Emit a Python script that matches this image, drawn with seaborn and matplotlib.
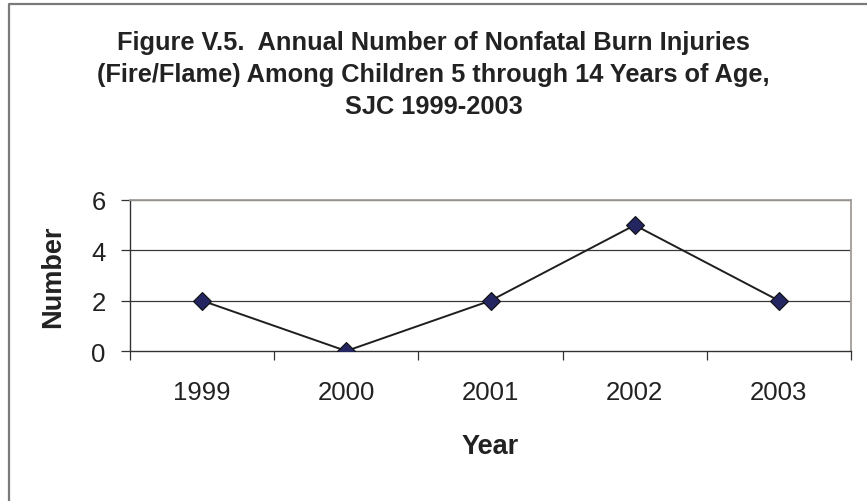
import matplotlib
matplotlib.use("Agg")
import matplotlib.pyplot as plt
from matplotlib.lines import Line2D
from matplotlib.ticker import FixedLocator, NullFormatter
import seaborn as sns
import pandas as pd

years = [1999, 2000, 2001, 2002, 2003]
counts = [2, 0, 2, 5, 2]
y_ticks = [0, 2, 4, 6]
title = ("Figure V.5.  Annual Number of Nonfatal Burn Injuries\n"
         "(Fire/Flame) Among Children 5 through 14 Years of Age,\n"
         "SJC 1999-2003")

df = pd.DataFrame({"Year": years, "Number": counts})

sns.set_theme(style="white")
plt.rcParams["font.family"] = ["Liberation Sans", "DejaVu Sans"]

fig = plt.figure(figsize=(8.67, 5.02), dpi=100)
ax = fig.add_axes([130 / 867, 1 - 352 / 502, 721 / 867, 151 / 502])

# gridlines behind the line
for v in y_ticks[1:]:
    ax.axhline(v, color="#3a3a3a", lw=0.9, zorder=0)

sns.lineplot(data=df, x="Year", y="Number", ax=ax, color="#1e1e1e", lw=1.4,
             marker="D", markersize=9, markerfacecolor="#232660",
             markeredgecolor="#111111", markeredgewidth=0.8, zorder=3)

ax.set_xlim(years[0] - 0.5, years[-1] + 0.5)
ax.set_ylim(y_ticks[0], y_ticks[-1])
ax.set_yticks(y_ticks)

# category boundaries get the tick marks, labels sit in the middle
ax.xaxis.set_major_locator(FixedLocator([y - 0.5 for y in years] + [years[-1] + 0.5]))
ax.xaxis.set_major_formatter(NullFormatter())
ax.xaxis.set_minor_locator(FixedLocator(years))
ax.set_xticklabels([str(y) for y in years], minor=True)

ax.tick_params(axis="x", which="major", direction="out", length=6.5, width=0.9,
               color="#333333", bottom=True)
ax.tick_params(axis="x", which="minor", length=0, pad=21, labelsize=18.5,
               labelcolor="#222222", bottom=True)
ax.tick_params(axis="y", direction="out", length=6.5, width=0.9, color="#333333",
               pad=11, labelsize=18.5, labelcolor="#222222", left=True)

for s in ["left", "bottom"]:
    ax.spines[s].set_color("#333333")
    ax.spines[s].set_linewidth(1.0)
for s in ["top", "right"]:
    ax.spines[s].set_color("#a39c97")
    ax.spines[s].set_linewidth(1.3)

ax.set_xlabel("Year", fontsize=19.5, fontweight="bold", color="#222222")
ax.xaxis.set_label_coords(0.5, -0.54)
ax.set_ylabel("Number", fontsize=19.5, fontweight="bold", color="#222222")
ax.yaxis.set_label_coords(-0.088, 0.5)

fig.text(0.5, 1 - 75 / 502, title, ha="center", va="center", fontsize=18.3,
         fontweight="bold", color="#222222", linespacing=1.4)

# outer chart frame (left and top edges)
fig.add_artist(Line2D([9 / 867, 9 / 867, 1.0], [0.0, 1 - 5 / 502, 1 - 5 / 502],
                      transform=fig.transFigure, color="#7a7a7a", lw=1.6))

fig.savefig("out.png", dpi=100)
